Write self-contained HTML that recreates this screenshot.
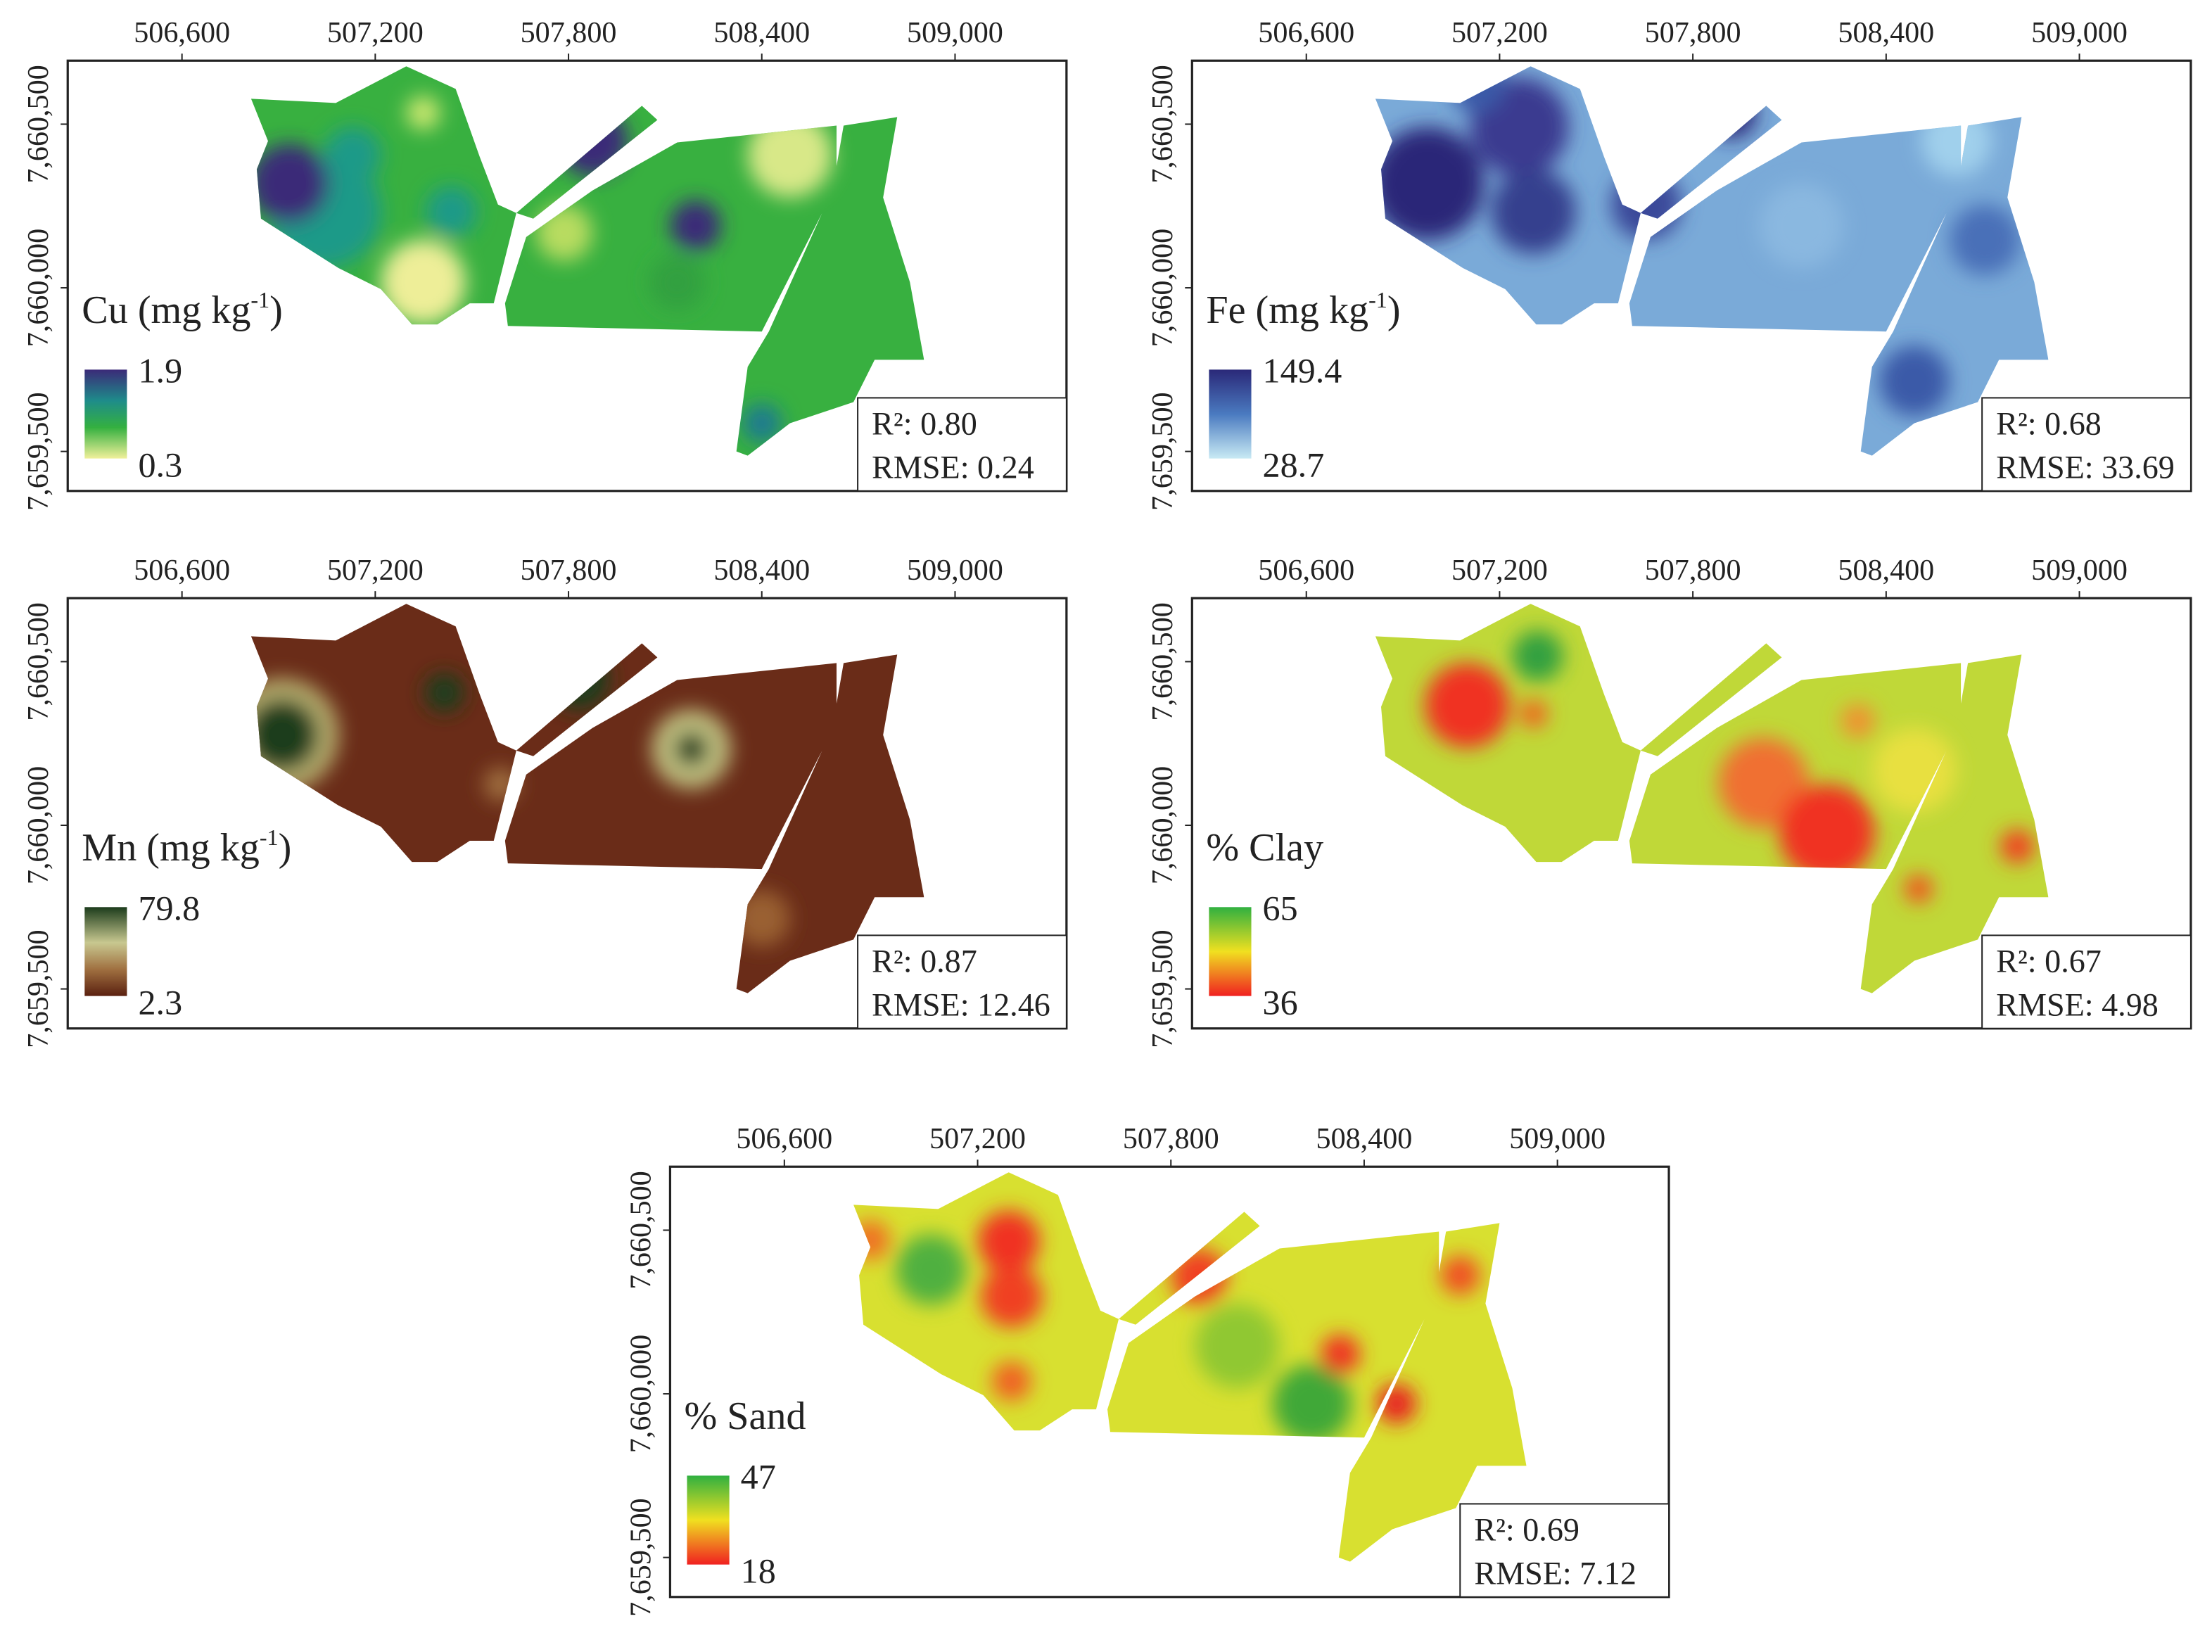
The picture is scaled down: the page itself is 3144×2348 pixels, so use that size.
<!DOCTYPE html>
<html><head><meta charset="utf-8"><style>
html,body{margin:0;padding:0;background:#fff;}
svg{display:block;}
</style></head><body>
<svg id="fig" width="3144" height="2348" viewBox="0 0 1568 1171" xmlns="http://www.w3.org/2000/svg" font-family="'Liberation Serif', serif">
<defs>
<linearGradient id="gCu" x1="0" y1="0" x2="0" y2="1"><stop offset="0" stop-color="#3b2a78"/><stop offset="0.35" stop-color="#1e8c8a"/><stop offset="0.65" stop-color="#34b040"/><stop offset="1" stop-color="#f0f09a"/></linearGradient>
<linearGradient id="gFe" x1="0" y1="0" x2="0" y2="1"><stop offset="0" stop-color="#2a2878"/><stop offset="0.5" stop-color="#4a7ac0"/><stop offset="1" stop-color="#c8eaf4"/></linearGradient>
<linearGradient id="gMn" x1="0" y1="0" x2="0" y2="1"><stop offset="0" stop-color="#1c3c1c"/><stop offset="0.4" stop-color="#c8c890"/><stop offset="0.7" stop-color="#a07040"/><stop offset="1" stop-color="#5a2010"/></linearGradient>
<linearGradient id="gClay" x1="0" y1="0" x2="0" y2="1"><stop offset="0" stop-color="#30b040"/><stop offset="0.5" stop-color="#f0e020"/><stop offset="1" stop-color="#f02020"/></linearGradient>
<linearGradient id="gSand" x1="0" y1="0" x2="0" y2="1"><stop offset="0" stop-color="#30b040"/><stop offset="0.5" stop-color="#f0e020"/><stop offset="1" stop-color="#f02020"/></linearGradient>
<filter id="blur" x="-50%" y="-50%" width="200%" height="200%"><feGaussianBlur stdDeviation="7"/></filter>
<clipPath id="shapeClip">
<polygon points="130,27 190,30 240,4 275,20 292,68 305,102 318,108 302,172 285,172 262,187 244,187 222,162 192,147 137,112 134,77 142,57"/>
<polygon points="318,108 407,32 418,42 330,112"/>
<polygon points="310,172 325,125 372,92 432,58 545,46 545,88 492,192 312,188"/>
<polygon points="550,46 588,40 578,97 597,157 607,212 572,212 557,242 512,257 482,280 474,277 482,217 497,192 542,92"/>
</clipPath>
</defs>
</svg>
<script>
const tickLabelsX = ["506,600","507,200","507,800","508,400","509,000"];
const tickLabelsY = ["7,660,500","7,660,000","7,659,500"];
const panelTitles = ["Cu (mg kg", "Fe (mg kg", "Mn (mg kg", "% Clay", "% Sand"];
const legendMax = ["1.9","149.4","79.8","65","47"];
const legendMin = ["0.3","28.7","2.3","36","18"];
const r2Values = ["0.80","0.68","0.87","0.67","0.69"];
const rmseValues = ["0.24","33.69","12.46","4.98","7.12"];

const NS="http://www.w3.org/2000/svg";
const svg=document.getElementById('fig');
function mk(tag,attrs,parent){const e=document.createElementNS(NS,tag);for(const k in attrs)e.setAttribute(k,attrs[k]);(parent||svg).appendChild(e);return e;}

const panels=[
 {x:48,y:43,grad:'gCu',base:'#38b040',unit:true,blobs:[[230,150,40,'#1e9a88'],[250,110,20,'#1e9a88'],[320,150,18,'#1e9a88'],[205,130,28,'#3b2a78'],[493,160,18,'#3b2a78'],[300,200,30,'#eeee98'],[420,100,25,'#3b2a78'],[560,110,30,'#d8e888'],[400,165,20,'#b8dc60'],[300,80,12,'#cce870'],[540,300,14,'#1e7a90'],[480,200,20,'#30a040']]},
 {x:845,y:43,grad:'gFe',base:'#7aaad8',unit:true,blobs:[[215,130,40,'#2a2878'],[280,90,35,'#3a3a90'],[290,150,30,'#34408e'],[370,145,25,'#3a4a9a'],[430,80,18,'#2a2878'],[610,170,25,'#4a70b8'],[560,270,25,'#3a5aa8'],[480,160,30,'#8ab8e0'],[590,100,25,'#a0d0ec'],[250,60,20,'#3a5aa8']]},
 {x:48,y:424,grad:'gMn',base:'#6a2c18',unit:true,blobs:[[200,140,40,'#b8b070'],[200,140,26,'#1c3c1c'],[315,110,14,'#1c3c1c'],[490,150,28,'#c0c080'],[490,150,12,'#1c3c1c'],[410,100,22,'#1c3c1c'],[540,270,20,'#9a6030'],[355,175,12,'#a07040']]},
 {x:845,y:424,grad:'gClay',base:'#c0d838',unit:false,blobs:[[243,119,30,'#f03020'],[293,84,18,'#30a040'],[453,174,32,'#f07030'],[498,209,34,'#f03020'],[560,165,30,'#e8e040'],[633,219,12,'#f04020'],[563,249,10,'#f05020'],[290,125,10,'#f06020'],[520,130,12,'#f09030']]},
 {x:475,y:827,grad:'gSand',base:'#d8e030',unit:false,blobs:[[288,96,22,'#f03020'],[290,135,22,'#f04020'],[233,116,25,'#50b040'],[503,211,28,'#40a838'],[563,211,14,'#e82020'],[523,176,14,'#f03020'],[608,120,14,'#f05020'],[423,121,20,'#f04020'],[290,195,14,'#f06020'],[190,95,14,'#f07020'],[450,170,30,'#90c830']]}
];

panels.forEach((p,i)=>{
 const g=mk('g',{transform:`translate(${p.x},${p.y})`});
 
 
 const mg=mk('g',{'clip-path':'url(#shapeClip)'},g);
 
 
 mk('rect',{x:0,y:0,width:708,height:305,fill:p.base},mg);
 const bg=mk('g',{filter:'url(#blur)',transform:'translate(-48,-43)'},mg);
 p.blobs.forEach(b=>{const c=mk('circle',{cx:b[0],cy:b[1],r:b[2],fill:b[3]},bg);
  
  });
 const fr=mk('rect',{x:0,y:0,width:708,height:305,fill:'none',stroke:'#222','stroke-width':1.6},g);
 
 
 tickLabelsX.forEach((t,j)=>{
  const tx=81+j*137;
  mk('line',{x1:tx,y1:0,x2:tx,y2:-5,stroke:'#222','stroke-width':1},g);
  const el=mk('text',{x:tx,y:-13,'text-anchor':'middle','font-size':21,fill:'#222'},g);el.textContent=t;
  
  
 });
 tickLabelsY.forEach((t,j)=>{
  const ty=45+j*116;
  mk('line',{x1:0,y1:ty,x2:-5,y2:ty,stroke:'#222','stroke-width':1},g);
  const el=mk('text',{x:0,y:0,'text-anchor':'middle','font-size':21,fill:'#222',transform:`translate(-14,${ty}) rotate(-90)`},g);el.textContent=t;
  
  
 });
 const ti=mk('text',{x:10,y:186,'font-size':28,fill:'#222'},g);
 ti.textContent=panelTitles[i];
 if(p.unit){const s=mk('tspan',{dy:-11,'font-size':16},ti);s.textContent='-1';const s2=mk('tspan',{dy:11},ti);s2.textContent=')';}
 
 
 const cb=mk('rect',{x:12,y:219,width:30,height:63,fill:`url(#${p.grad})`},g);
 
 
 const mx=mk('text',{x:50,y:228,'font-size':25,fill:'#222'},g);mx.textContent=legendMax[i];
 
 
 const mn=mk('text',{x:50,y:295,'font-size':25,fill:'#222'},g);mn.textContent=legendMin[i];
 
 
 const bx=mk('rect',{x:560,y:239,width:148,height:66,fill:'#fff',stroke:'#222','stroke-width':1},g);
 
 
 const r2=mk('text',{x:570,y:265,'font-size':23,fill:'#222'},g);r2.textContent='R²: '+r2Values[i];
 
 
 const rm=mk('text',{x:570,y:296,'font-size':23,fill:'#222'},g);rm.textContent='RMSE: '+rmseValues[i];
 
 
});
</script>
</body></html>
